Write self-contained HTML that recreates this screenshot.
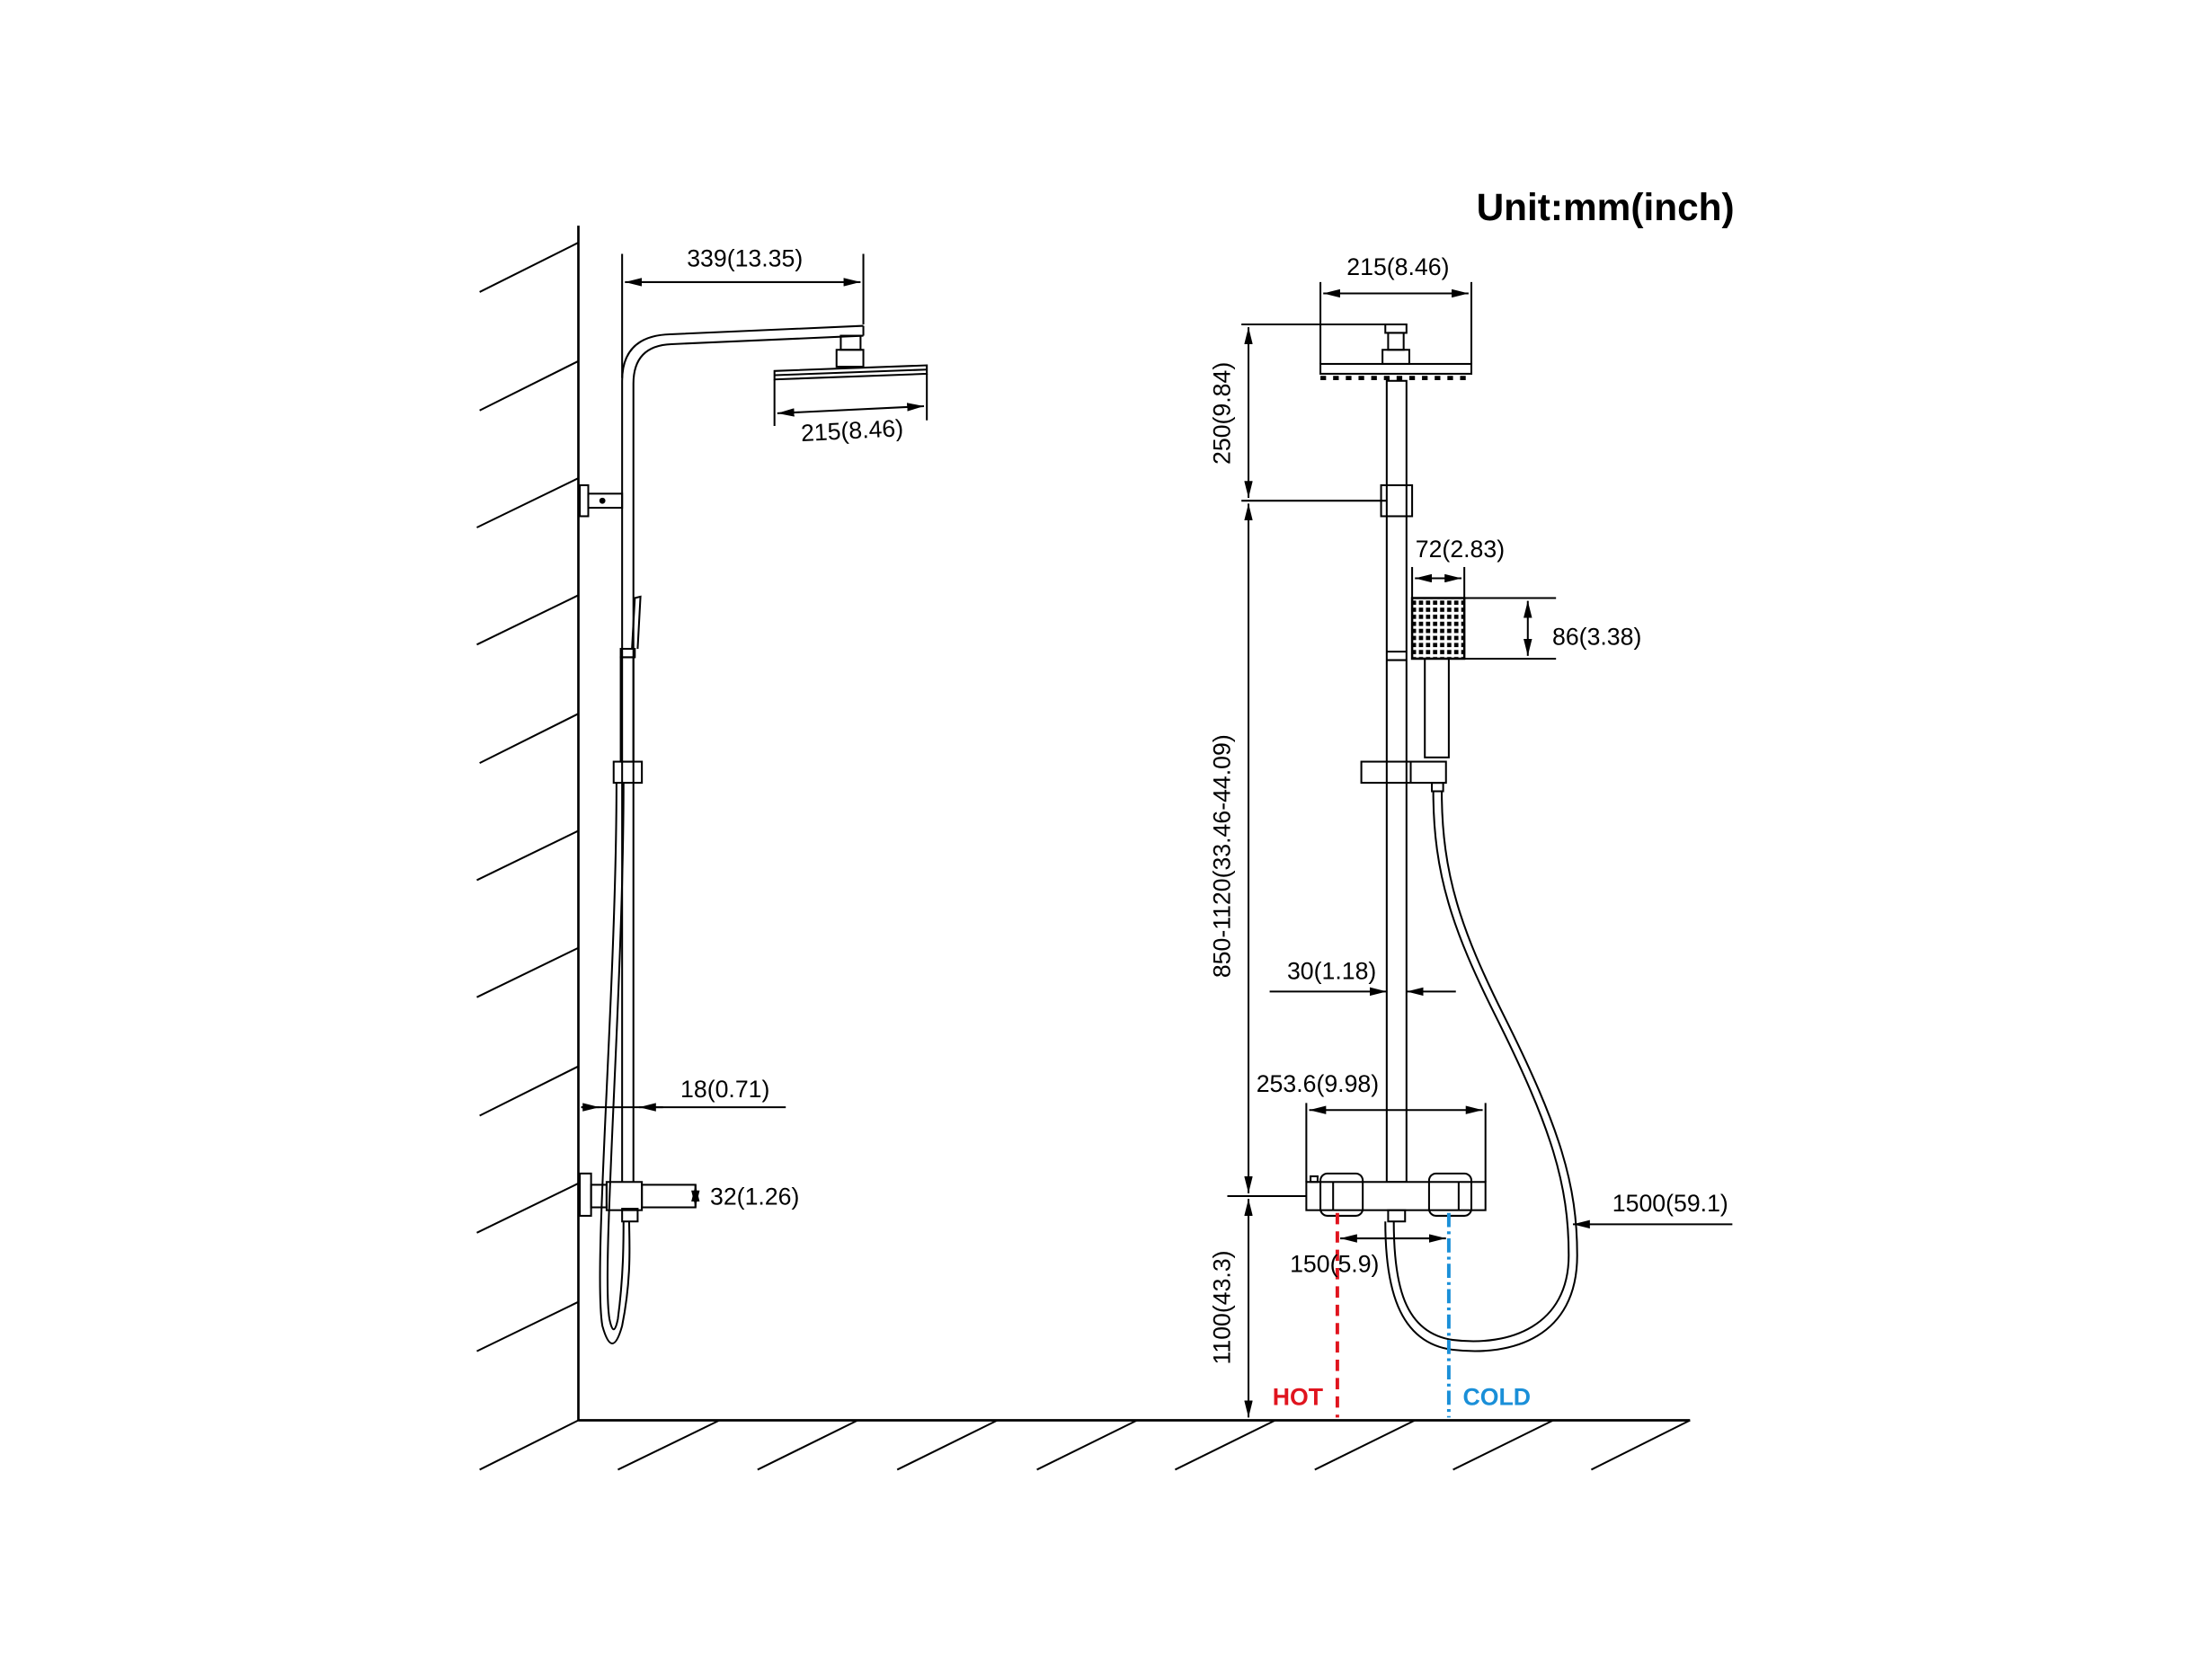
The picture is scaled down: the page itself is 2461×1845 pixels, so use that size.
<!DOCTYPE html>
<html><head><style>html,body{margin:0;padding:0;background:#fff}svg{display:block}</style></head>
<body>
<svg width="2461" height="1845" viewBox="0 0 1568 1175.5" xmlns="http://www.w3.org/2000/svg">
<defs>
<marker id="a" viewBox="0 0 12 6" refX="12" refY="3" markerWidth="12" markerHeight="6" markerUnits="userSpaceOnUse" orient="auto-start-reverse"><path d="M0,0L12,3L0,6z" fill="#000"/></marker>
<pattern id="g" width="5" height="5" patternUnits="userSpaceOnUse"><rect x="0.8" y="0.8" width="3" height="3" fill="#000"/></pattern>
</defs>
<rect width="1568" height="1176" fill="#fff"/>
<g stroke="#000" stroke-width="1.3" fill="none" font-family="Liberation Sans, sans-serif">
<line x1="410" y1="160" x2="410" y2="1007" stroke-width="1.7"/>
<line x1="410" y1="1007" x2="1198" y2="1007" stroke-width="1.7"/>
<g>
<line x1="340" y1="207" x2="410" y2="172"/><line x1="340" y1="291" x2="410" y2="256"/><line x1="338" y1="374" x2="410" y2="339"/><line x1="338" y1="457" x2="410" y2="422"/><line x1="340" y1="541" x2="410" y2="506"/><line x1="338" y1="624" x2="410" y2="589"/><line x1="338" y1="707" x2="410" y2="672"/><line x1="340" y1="791" x2="410" y2="756"/><line x1="338" y1="874" x2="410" y2="839"/><line x1="338" y1="958" x2="410" y2="923"/>
<line x1="340" y1="1042" x2="410" y2="1007"/><line x1="438" y1="1042" x2="510" y2="1007"/><line x1="537" y1="1042" x2="608" y2="1007"/><line x1="636" y1="1042" x2="707" y2="1007"/><line x1="735" y1="1042" x2="806" y2="1007"/><line x1="833" y1="1042" x2="904" y2="1007"/><line x1="932" y1="1042" x2="1003" y2="1007"/><line x1="1030" y1="1042" x2="1101" y2="1007"/><line x1="1128" y1="1042" x2="1198" y2="1007"/>
</g>
<path d="M441,838 L441,270 Q441,238 475,237 L612,231"/>
<path d="M449,838 L449,272 Q449,245 476,244 L612,238"/>
<line x1="612" y1="231" x2="612" y2="238"/>
<rect x="596" y="238" width="14" height="10"/>
<rect x="593" y="248" width="19" height="12"/>
<path d="M549,263 L657,259 L657,265 L549,269 Z"/>
<line x1="549" y1="266" x2="657" y2="262"/>
<line x1="441" y1="180" x2="441" y2="268"/><line x1="612" y1="180" x2="612" y2="230"/>
<line x1="443" y1="200" x2="610" y2="200" marker-start="url(#a)" marker-end="url(#a)"/>
<line x1="549" y1="269" x2="549" y2="302"/><line x1="657" y1="265" x2="657" y2="298"/>
<line x1="551" y1="293" x2="655" y2="288" marker-start="url(#a)" marker-end="url(#a)"/>
<rect x="411" y="344" width="6" height="22"/><rect x="417" y="350" width="24" height="10"/><circle cx="427" cy="355" r="1.5" fill="#000"/>
<path d="M448,460 L450,424 L454,423 L452,460"/>
<rect x="440" y="460" width="10" height="6"/><rect x="440" y="466" width="9" height="74"/>
<rect x="435" y="540" width="20" height="15"/>
<path d="M437,555 C437,700 420,900 427,940 Q434,965 441,940 C448,905 446,880 446,866"/>
<path d="M442,555 C442,700 426,900 432,935 Q435,950 438,935 C442,905 442,880 442,866"/>
<rect x="411" y="832" width="8" height="30"/><rect x="419" y="840" width="11" height="16"/>
<rect x="430" y="838" width="25" height="20"/><rect x="455" y="840" width="38" height="16"/>
<rect x="441" y="857" width="11" height="9"/>
<line x1="412" y1="785" x2="557" y2="785"/>
<line x1="412" y1="785" x2="425" y2="785" marker-end="url(#a)"/>
<line x1="470" y1="785" x2="453" y2="785" marker-end="url(#a)"/>
<line x1="493" y1="848" x2="493" y2="840" marker-end="url(#a)"/><line x1="493" y1="848" x2="493" y2="856" marker-end="url(#a)"/>
<rect x="983" y="270" width="14" height="568"/>
<line x1="983" y1="462" x2="997" y2="462"/><line x1="983" y1="468" x2="997" y2="468"/>
<rect x="982" y="230" width="15" height="6"/><rect x="984" y="236" width="11" height="12"/><rect x="980" y="248" width="19" height="10"/>
<rect x="936" y="258" width="107" height="7"/>
<line x1="936" y1="268" x2="1043" y2="268" stroke-width="3" stroke-dasharray="4,5"/>
<line x1="880" y1="230" x2="982" y2="230"/>
<line x1="936" y1="200" x2="936" y2="258"/><line x1="1043" y1="200" x2="1043" y2="258"/>
<line x1="938" y1="208" x2="1041" y2="208" marker-start="url(#a)" marker-end="url(#a)"/>
<line x1="885" y1="232" x2="885" y2="353" marker-start="url(#a)" marker-end="url(#a)"/>
<line x1="885" y1="357" x2="885" y2="846" marker-start="url(#a)" marker-end="url(#a)"/>
<line x1="885" y1="850" x2="885" y2="1005" marker-start="url(#a)" marker-end="url(#a)"/>
<line x1="880" y1="355" x2="983" y2="355"/><rect x="979" y="344" width="22" height="22"/>
<line x1="870" y1="848" x2="926" y2="848"/>
<rect x="1001" y="424" width="37" height="43" fill="url(#g)" stroke-width="1.6"/>
<rect x="1010" y="467" width="17" height="70"/>
<line x1="1001" y1="402" x2="1001" y2="424"/><line x1="1038" y1="402" x2="1038" y2="424"/>
<line x1="1003" y1="410" x2="1036" y2="410" marker-start="url(#a)" marker-end="url(#a)"/>
<line x1="1038" y1="424" x2="1103" y2="424"/><line x1="1038" y1="467" x2="1103" y2="467"/>
<line x1="1083" y1="426" x2="1083" y2="465" marker-start="url(#a)" marker-end="url(#a)"/>
<rect x="965" y="540" width="60" height="15"/><line x1="1000" y1="540" x2="1000" y2="555"/>
<rect x="1015" y="555" width="8" height="6"/>
<path d="M1016,561 C1016,620 1030,660 1060,720 C1100,800 1112,840 1112,890 C1112,940 1070,955 1030,950 C995,945 988,910 988,866"/>
<path d="M1022,561 C1022,620 1036,660 1066,720 C1106,800 1118,840 1118,890 C1118,948 1072,962 1030,957 C990,952 982,910 982,866"/>
<line x1="900" y1="703" x2="983" y2="703" marker-end="url(#a)"/>
<line x1="1032" y1="703" x2="997" y2="703" marker-end="url(#a)"/>
<line x1="926" y1="782" x2="926" y2="838"/><line x1="1053" y1="782" x2="1053" y2="838"/>
<line x1="928" y1="787" x2="1051" y2="787" marker-start="url(#a)" marker-end="url(#a)"/>
<rect x="926" y="838" width="127" height="20" fill="#fff"/>
<line x1="945" y1="838" x2="945" y2="858"/><line x1="1034" y1="838" x2="1034" y2="858"/>
<rect x="936" y="832" width="30" height="30" rx="5"/><rect x="1013" y="832" width="30" height="30" rx="5"/>
<rect x="929" y="834" width="5" height="4"/>
<rect x="984" y="858" width="12" height="8"/>
<line x1="950" y1="878" x2="1025" y2="878" marker-start="url(#a)" marker-end="url(#a)"/>
<line x1="1228" y1="868" x2="1115" y2="868" marker-end="url(#a)"/>
<line x1="948" y1="860" x2="948" y2="1005" stroke="#e0141e" stroke-width="2.5" stroke-dasharray="8,5"/>
<line x1="1027" y1="860" x2="1027" y2="1005" stroke="#1a8fd8" stroke-width="2.5" stroke-dasharray="10,3,2,3"/>
</g>
<g font-family="Liberation Sans, sans-serif" font-size="17" fill="#000" text-anchor="middle">
<text x="1138" y="156" font-size="27" font-weight="bold">Unit:mm(inch)</text>
<text x="528" y="189">339(13.35)</text>
<text x="604" y="311" transform="rotate(-3 604 305)">215(8.46)</text>
<text x="991" y="195">215(8.46)</text>
<text x="1035" y="395">72(2.83)</text>
<text x="1132" y="457">86(3.38)</text>
<text x="944" y="694">30(1.18)</text>
<text x="934" y="774">253.6(9.98)</text>
<text x="946" y="902">150(5.9)</text>
<text x="1184" y="859">1500(59.1)</text>
<text x="514" y="778">18(0.71)</text>
<text x="535" y="854">32(1.26)</text>
<text transform="translate(872 293) rotate(-90)">250(9.84)</text>
<text transform="translate(872 607) rotate(-90)">850-1120(33.46-44.09)</text>
<text transform="translate(872 927) rotate(-90)">1100(43.3)</text>
<text x="920" y="996" fill="#e0141e" font-weight="bold">HOT</text>
<text x="1061" y="996" fill="#1a8fd8" font-weight="bold">COLD</text>
</g>
</svg>
</body></html>
